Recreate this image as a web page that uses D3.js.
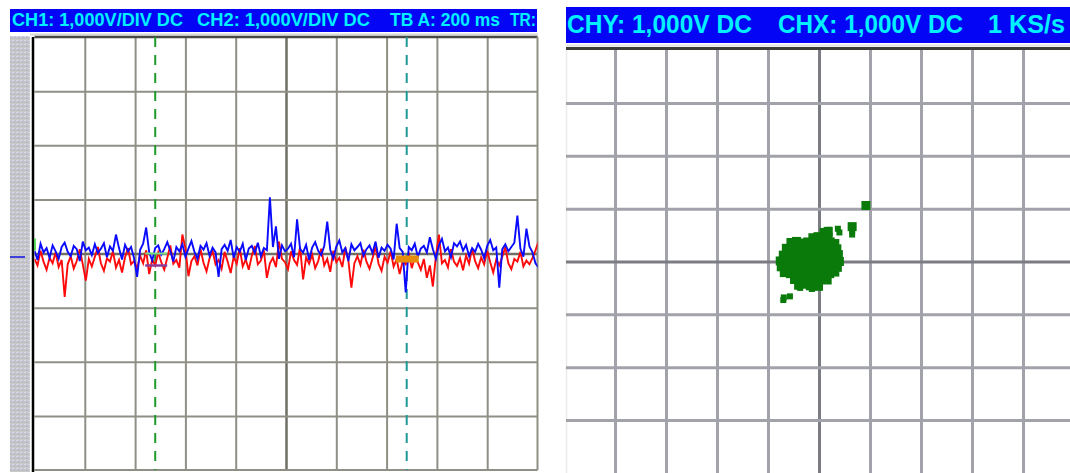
<!DOCTYPE html>
<html>
<head>
<meta charset="utf-8">
<script src="https://cdn.jsdelivr.net/npm/d3@7"></script>
<style>
  body { margin: 0; background: #fff; }
  svg { display: block; }
</style>
</head>
<body>
<script>
// CH2 (blue) samples, in divisions, one every sampleMs
const ch2Blue = [
  0.05, -0.12, 0.18, 0.02, 0.10, -0.08, 0.15, 0.04, -0.10, 0.12, 0.20, 0.03,
  -0.05, 0.14, 0.08, -0.14, 0.22, 0.06, 0.11, -0.03, 0.17, 0.01, 0.09, 0.19,
  -0.07, 0.13, 0.05, 0.35, 0.10, -0.11, 0.16, 0.04, 0.12, -0.09, -0.43, 0.07,
  0.18, 0.48, 0.02, -0.13, 0.10, 0.15, -0.02, 0.08, 0.21, 0.05, -0.15, 0.12,
  0.04, 0.17, -0.06, 0.09, 0.23, 0.03, -0.10, 0.14, 0.07, 0.19, -0.04, 0.11,
  0.02, -0.43, 0.08, 0.16, 0.05, 0.25, -0.08, 0.12, 0.03, 0.18, -0.12, 0.09,
  0.14, 0.01, 0.20, -0.05, 0.10, 0.06, 1.04, 0.12, 0.50, -0.10, 0.15, 0.04,
  0.09, 0.18, -0.07, 0.63, 0.08, 0.02, 0.16, -0.12, 0.11, 0.21, 0.05, -0.03,
  0.14, 0.59, 0.07, -0.09, 0.13, 0.24, 0.02, 0.10, -0.14, 0.17, 0.06, 0.12,
  0.19, -0.04, 0.08, 0.15, 0.01, 0.22, -0.08, 0.11, 0.05, 0.16, 0.09, -0.11,
  0.55, 0.10, 0.03, -0.72, 0.12, 0.06, 0.18, -0.06, 0.09, 0.14, 0.02, 0.30,
  0.08, -0.10, 0.15, 0.27, 0.04, 0.11, -0.07, 0.19, 0.13, 0.22, 0.05, 0.16,
  -0.05, 0.10, 0.03, 0.18, 0.07, -0.09, 0.14, 0.25, 0.06, 0.11, -0.63, 0.08,
  0.17, 0.04, 0.12, 0.20, 0.70, 0.09, -0.06, 0.46, 0.13, 0.02, -0.18, -0.26
]

// CH1 (red) samples, in divisions
const ch1Red = [
  -0.10, -0.22, 0.05, -0.15, -0.30, -0.08, -0.18, 0.02, -0.25, -0.12, -0.80, -0.20,
  -0.05, -0.28, -0.14, 0.08, -0.20, -0.50, -0.10, -0.24, -0.06, 0.12, -0.18, -0.32,
  -0.09, -0.15, 0.04, -0.26, -0.12, -0.35, -0.07, 0.10, -0.20, -0.14, -0.28, -0.04,
  -0.18, 0.06, -0.38, -0.11, -0.22, 0.02, -0.16, -0.30, -0.08, 0.15, -0.19, -0.12,
  -0.26, 0.35, 0.10, -0.42, -0.14, -0.05, -0.22, 0.08, -0.17, -0.33, -0.09, 0.05,
  -0.20, -0.12, -0.28, 0.03, -0.15, -0.36, -0.06, -0.19, 0.10, -0.24, -0.11, -0.30,
  -0.04, 0.14, -0.20, -0.13, 0.06, -0.45, -0.18, -0.08, -0.25, 0.22, -0.10, -0.16,
  -0.29, 0.04, -0.12, -0.21, 0.12, -0.48, -0.07, -0.19, -0.02, -0.27, -0.14, 0.09,
  -0.22, -0.10, -0.34, 0.05, -0.16, -0.08, -0.25, 0.11, -0.13, -0.63, -0.18, -0.05,
  -0.21, 0.07, -0.15, -0.28, -0.09, 0.13, -0.19, -0.32, -0.06, -0.17, 0.04, -0.24,
  -0.11, -0.38, -0.14, -0.20, 0.02, -0.27, -0.08, -0.16, -0.30, -0.10, -0.45, -0.22,
  -0.61, -0.05, 0.35, -0.18, -0.12, -0.26, 0.08, -0.15, -0.23, -0.09, -0.31, -0.04,
  -0.19, 0.10, -0.14, -0.27, -0.07, -0.20, 0.05, -0.16, -0.35, -0.11, -0.22, -0.06,
  0.12, -0.18, -0.29, -0.10, -0.15, 0.03, -0.24, -0.13, -0.20, -0.08, 0.06, 0.22
]
const sampleMs = 12

// XY mode points [CHX, CHY] in divisions
const xyPoints = [
  [0.10, 0.55], [0.18, 0.57], [0.14, 0.50],
  [-0.12, 0.45], [-0.02, 0.47], [0.08, 0.44], [0.18, 0.46],
  [-0.55, 0.36], [-0.44, 0.38], [-0.33, 0.35], [-0.22, 0.37], [-0.11, 0.36], [0.00, 0.39], [0.11, 0.35], [0.22, 0.37], [0.31, 0.34],
  [-0.64, 0.25], [-0.52, 0.27], [-0.40, 0.24], [-0.29, 0.26], [-0.18, 0.25], [-0.07, 0.23], [0.04, 0.26], [0.15, 0.25], [0.26, 0.27], [0.35, 0.24],
  [-0.70, 0.12], [-0.59, 0.14], [-0.48, 0.11], [-0.37, 0.13], [-0.26, 0.12], [-0.15, 0.10], [-0.04, 0.13], [0.07, 0.12], [0.18, 0.14], [0.29, 0.11], [0.38, 0.13],
  [-0.76, 0.01], [-0.65, -0.01], [-0.54, 0.02], [-0.43, 0.00], [-0.32, 0.01], [-0.21, -0.02], [-0.10, 0.00], [0.01, 0.02], [0.12, -0.01], [0.23, 0.01], [0.33, -0.02], [0.40, 0.00],
  [-0.74, -0.10], [-0.62, -0.12], [-0.51, -0.09], [-0.40, -0.11], [-0.29, -0.10], [-0.18, -0.08], [-0.07, -0.11], [0.04, -0.10], [0.15, -0.12], [0.26, -0.09], [0.36, -0.11],
  [-0.68, -0.21], [-0.56, -0.23], [-0.45, -0.20], [-0.34, -0.22], [-0.23, -0.21], [-0.12, -0.19], [-0.01, -0.22], [0.10, -0.21], [0.21, -0.23], [0.31, -0.20],
  [-0.48, -0.34], [-0.37, -0.32], [-0.26, -0.35], [-0.15, -0.33], [-0.04, -0.34], [0.07, -0.32], [0.16, -0.35],
  [-0.40, -0.45], [-0.29, -0.43], [-0.17, -0.46], [-0.06, -0.44], [-0.01, -0.47],
  [0.92, 1.06], [0.65, 0.66], [0.65, 0.58], [0.65, 0.51], [0.37, 0.62], [0.40, 0.55], [0.20, 0.60],
  [-0.14, -0.52], [-0.37, -0.50], [-0.57, -0.66], [-0.70, -0.73], [-0.69, -0.68]
]
const xyCoreCount = 84

// grid divisions
const timeTicks = [200, 400, 600, 800, 1000, 1200, 1400, 1600, 1800]
const voltTicks = [-3, -2, -1, 0, 1, 2, 3]
const xyTicksX = [-4, -3, -2, -1, 0, 1, 2, 3, 4]
const xyTicksY = [-3, -2, -1, 0, 1, 2, 3]
const cursorTimes = [480, 1480]

const scopeHeader = ['CH1: 1,000V/DIV DC', 'CH2: 1,000V/DIV DC', 'TB A: 200 ms', 'TR:']
const xyHeader = ['CHY: 1,000V DC', 'CHX: 1,000V DC', '1 KS/s']

const svg = d3.select('body').append('svg')
  .attr('width', 1070)
  .attr('height', 473)

const defs = svg.append('defs')
const strip = defs.append('pattern')
  .attr('id', 'strip')
  .attr('width', 4)
  .attr('height', 4)
  .attr('patternUnits', 'userSpaceOnUse')
strip.append('rect').attr('width', 4).attr('height', 4).attr('fill', '#c3c3cf')
strip.append('rect').attr('x', 0).attr('y', 0).attr('width', 2).attr('height', 1).attr('fill', '#dadae2')
strip.append('rect').attr('x', 2).attr('y', 2).attr('width', 1).attr('height', 1).attr('fill', '#b0b0a6')
strip.append('rect').attr('x', 1).attr('y', 3).attr('width', 2).attr('height', 1).attr('fill', '#d2d2c2')

// ---------- left: time domain ----------
const L = { left: 34.5, right: 537.5, top: 37, bottom: 470 }
const xT = d3.scaleLinear([0, 2000], [L.left, L.right])
const yV = d3.scaleLinear([-4, 4], [L.bottom, L.top])

defs.append('clipPath').attr('id', 'clipL')
  .append('rect')
  .attr('x', L.left).attr('y', L.top)
  .attr('width', L.right - L.left).attr('height', L.bottom - L.top)

// header bar
const headL = svg.append('g').attr('class', 'header')
headL.append('rect')
  .attr('x', 10).attr('y', 9).attr('width', 527).attr('height', 23)
  .attr('fill', '#0505f5')
const headLPos = [[12, 171], [197, 173], [390, 110], [510, 26]]
headL.selectAll('text')
  .data(scopeHeader)
  .enter()
  .append('text')
  .text(d => d)
  .attr('x', (d, i) => headLPos[i][0])
  .attr('y', 26)
  .attr('textLength', (d, i) => headLPos[i][1])
  .attr('lengthAdjust', 'spacingAndGlyphs')
  .attr('fill', '#00f0ff')
  .attr('font-family', 'Liberation Sans, Arial, sans-serif')
  .attr('font-weight', 'bold')
  .attr('font-size', 18)

// side strip and frame
svg.append('rect')
  .attr('x', 10).attr('y', 36).attr('width', 20).attr('height', 436)
  .attr('fill', 'url(#strip)')
svg.append('line')
  .attr('x1', 30).attr('x2', 538).attr('y1', 34.5).attr('y2', 34.5)
  .attr('stroke', '#d8d8d8').attr('stroke-width', 2)
svg.append('rect')
  .attr('x', L.left).attr('y', L.top)
  .attr('width', L.right - L.left).attr('height', L.bottom - L.top)
  .attr('fill', '#fff')

// grid through axes
const gridL = svg.append('g').attr('class', 'grid-left')
gridL.append('g')
  .attr('transform', `translate(0,${L.bottom})`)
  .call(d3.axisBottom(xT).tickValues(timeTicks).tickSize(-(L.bottom - L.top)).tickFormat(''))
  .call(g => g.select('.domain').remove())
  .selectAll('line')
  .attr('stroke', d => d === 1000 ? '#6f6f66' : '#8f8f86')
  .attr('stroke-width', d => d === 1000 ? 2.5 : 2)
gridL.append('g')
  .attr('transform', `translate(${L.left},0)`)
  .call(d3.axisLeft(yV).tickValues(voltTicks).tickSize(-(L.right - L.left)).tickFormat(''))
  .call(g => g.select('.domain').remove())
  .selectAll('line')
  .attr('stroke', d => d === 0 ? '#6f6f66' : '#8f8f86')
  .attr('stroke-width', d => d === 0 ? 2.5 : 2)

// frame edges
svg.append('line')
  .attr('x1', L.left).attr('x2', L.right).attr('y1', L.top).attr('y2', L.top)
  .attr('stroke', '#4a4a44').attr('stroke-width', 2.5)
svg.append('line')
  .attr('x1', L.right).attr('x2', L.right).attr('y1', L.top).attr('y2', L.bottom)
  .attr('stroke', '#8f8f86').attr('stroke-width', 2)
svg.append('line')
  .attr('x1', L.left).attr('x2', L.right).attr('y1', L.bottom).attr('y2', L.bottom)
  .attr('stroke', '#8f8f86').attr('stroke-width', 2)
svg.append('line')
  .attr('x1', 33).attr('x2', 33).attr('y1', L.top).attr('y2', L.bottom + 2)
  .attr('stroke', '#000').attr('stroke-width', 2.5)

// cursors
svg.append('g').selectAll('line')
  .data(cursorTimes)
  .enter()
  .append('line')
  .attr('x1', d => xT(d)).attr('x2', d => xT(d))
  .attr('y1', L.top).attr('y2', L.bottom)
  .attr('stroke', (d, i) => i === 0 ? '#1f9a2a' : '#1f9a96')
  .attr('stroke-width', 2)
  .attr('stroke-dasharray', '10,8')

// traces
const line = d3.line()
  .x((d, i) => xT(i * sampleMs))
  .y(d => yV(d))
const traces = svg.append('g').attr('clip-path', 'url(#clipL)')
traces.append('path')
  .datum(ch1Red)
  .attr('d', line)
  .attr('fill', 'none')
  .attr('stroke', '#ff0a0a')
  .attr('stroke-width', 1.9)
traces.append('path')
  .datum(ch2Blue)
  .attr('d', line)
  .attr('fill', 'none')
  .attr('stroke', '#0a0aff')
  .attr('stroke-width', 1.9)

// cursor markers
svg.append('line')
  .attr('x1', xT(cursorTimes[0]) - 10).attr('x2', xT(cursorTimes[0]) + 12)
  .attr('y1', yV(0)).attr('y2', yV(0))
  .attr('stroke', '#7ee07e').attr('stroke-width', 2)
svg.append('line')
  .attr('x1', xT(cursorTimes[0]) - 10).attr('x2', xT(cursorTimes[0]) + 12)
  .attr('y1', yV(0) + 12).attr('y2', yV(0) + 12)
  .attr('stroke', '#8a3c9a').attr('stroke-width', 2.5)
svg.append('rect')
  .attr('x', xT(cursorTimes[1]) - 11).attr('y', yV(0) + 2)
  .attr('width', 23).attr('height', 7)
  .attr('fill', '#e58c0a')

// channel and trigger markers
svg.append('line')
  .attr('x1', 10).attr('x2', 25).attr('y1', yV(0) + 3.5).attr('y2', yV(0) + 3.5)
  .attr('stroke', '#1010e0').attr('stroke-width', 1.5)
svg.append('line')
  .attr('x1', 35).attr('x2', 35).attr('y1', yV(0) - 15).attr('y2', yV(0) - 3)
  .attr('stroke', '#30d030').attr('stroke-width', 1.5)

// ---------- right: XY mode ----------
const R = { left: 566, right: 1070, top: 50, bottom: 473 }
const xX = d3.scaleLinear([-5, 5], [564, 1074])
const yY = d3.scaleLinear([-4, 4], [472.8, 50.2])

const headR = svg.append('g').attr('class', 'header')
headR.append('rect')
  .attr('x', 566).attr('y', 7).attr('width', 504).attr('height', 36)
  .attr('fill', '#0505f5')
const headRPos = [[567, 185], [778, 185], [988, 77]]
headR.selectAll('text')
  .data(xyHeader)
  .enter()
  .append('text')
  .text(d => d)
  .attr('x', (d, i) => headRPos[i][0])
  .attr('y', 33)
  .attr('textLength', (d, i) => headRPos[i][1])
  .attr('lengthAdjust', 'spacingAndGlyphs')
  .attr('fill', '#00f0ff')
  .attr('font-family', 'Liberation Sans, Arial, sans-serif')
  .attr('font-weight', 'bold')
  .attr('font-size', 25)

svg.append('line')
  .attr('x1', R.left).attr('x2', R.right).attr('y1', 45.5).attr('y2', 45.5)
  .attr('stroke', '#e0e0e0').attr('stroke-width', 2)
svg.append('line')
  .attr('x1', R.left).attr('x2', R.right).attr('y1', 48.5).attr('y2', 48.5)
  .attr('stroke', '#3c3c38').attr('stroke-width', 3)
svg.append('line')
  .attr('x1', R.left + 0.5).attr('x2', R.left + 0.5).attr('y1', 50).attr('y2', R.bottom)
  .attr('stroke', '#ececec').attr('stroke-width', 1.5)

const gridR = svg.append('g').attr('class', 'grid-right')
gridR.append('g')
  .attr('transform', `translate(0,${R.bottom})`)
  .call(d3.axisBottom(xX).tickValues(xyTicksX).tickSize(-(R.bottom - R.top)).tickFormat(''))
  .call(g => g.select('.domain').remove())
  .selectAll('line')
  .attr('stroke', d => d === 0 ? '#7c7c84' : '#a2a2aa')
  .attr('stroke-width', 3)
gridR.append('g')
  .attr('transform', `translate(${R.left},0)`)
  .call(d3.axisLeft(yY).tickValues(xyTicksY).tickSize(-(R.right - R.left)).tickFormat(''))
  .call(g => g.select('.domain').remove())
  .selectAll('line')
  .attr('stroke', d => d === 0 ? '#7c7c84' : '#a2a2aa')
  .attr('stroke-width', 3)

// XY cloud: dense core drawn larger, stray points smaller
svg.append('g').selectAll('rect')
  .data(xyPoints)
  .enter()
  .append('rect')
  .attr('x', (d, i) => xX(d[0]) - (i < xyCoreCount ? 4.5 : 3))
  .attr('y', (d, i) => yY(d[1]) - (i < xyCoreCount ? 4.5 : 3))
  .attr('width', (d, i) => i < xyCoreCount ? 9 : 6)
  .attr('height', (d, i) => i < xyCoreCount ? 9 : 6)
  .attr('fill', '#0a7a0a')
</script>
</body>
</html>
